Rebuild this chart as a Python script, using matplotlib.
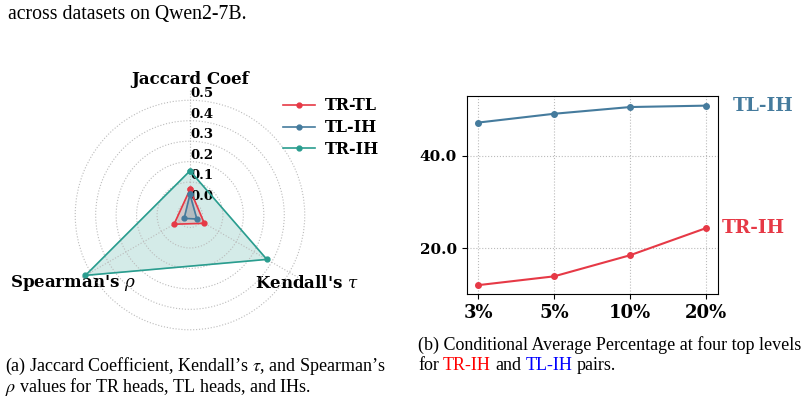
import numpy as np
import matplotlib.pyplot as plt
from matplotlib.ticker import MultipleLocator, FormatStrFormatter

plt.rcParams['font.family'] = 'DejaVu Serif'
plt.rcParams['mathtext.fontset'] = 'dejavuserif'

# --- data ---
metrics = ['Jaccard Coef', "Kendall's $\\tau$", "Spearman's $\\rho$"]
pair_names = ['TR-TL', 'TL-IH', 'TR-IH']
tr_tl = [0.064, 0.020, 0.029]
tl_ih = [0.040, -0.022, -0.028]
tr_ih = [0.155, 0.373, 0.529]
r_ticks = [0.0, 0.1, 0.2, 0.3, 0.4, 0.5]

levels = ['3%', '5%', '10%', '20%']
cond_tl_ih = [47.1, 49.0, 50.45, 50.75]
cond_tr_ih = [12.1, 14.0, 18.55, 24.4]

RED = '#e63946'
BLUE = '#457b9d'
GREEN = '#2a9d8f'

fig = plt.figure(figsize=(8.05, 4.03), dpi=100)

# --- (a) radar chart ---
ax = fig.add_axes([0.0807, 0.1563, 0.3106, 0.6203], projection='polar')
ax.set_theta_offset(np.pi / 2)
ax.set_theta_direction(-1)
angles = np.linspace(0, 2 * np.pi, len(metrics), endpoint=False).tolist()
closed = angles + angles[:1]
for name, vals, col in zip(pair_names, [tr_tl, tl_ih, tr_ih], [RED, BLUE, GREEN]):
    v = vals + vals[:1]
    ax.plot(closed, v, color=col, lw=1.2, marker='o', ms=3.5, label=name)
    ax.fill(closed, v, color=col, alpha=0.2)
ax.set_xticks(angles)
ax.set_xticklabels(metrics, fontsize=12, fontweight='bold')
ax.tick_params(axis='x', pad=-3)
ax.set_ylim(-0.061, 0.55)
ax.set_yticks(r_ticks)
ax.set_yticklabels(['%.1f' % t for t in r_ticks], fontsize=9.5, fontweight='bold')
ax.set_rlabel_position(0)
ax.spines['polar'].set_visible(False)
ax.grid(True, ls=':', color='#bbbbbb', lw=0.8)
fig.legend(*ax.get_legend_handles_labels(), loc='upper left',
           bbox_to_anchor=(269 / 805, 1 - 83 / 403), frameon=False,
           prop=dict(size=11.5, weight='bold'), handlelength=2.0,
           labelspacing=0.3, handletextpad=0.6)

# --- (b) conditional average percentage ---
bx = fig.add_axes([0.5797, 0.2705, 0.3118, 0.491])
x = np.arange(len(levels))
bx.plot(x, cond_tl_ih, color=BLUE, lw=1.5, marker='o', ms=4)
bx.plot(x, cond_tr_ih, color=RED, lw=1.5, marker='o', ms=4)
bx.set_xticks(x)
bx.set_xticklabels(levels, fontsize=13, fontweight='bold')
bx.set_xlim(-0.15, 3.15)
bx.set_ylim(10.2, 52.8)
bx.yaxis.set_major_locator(MultipleLocator(20))
bx.yaxis.set_major_formatter(FormatStrFormatter('%.1f'))
for lab in bx.get_yticklabels():
    lab.set_fontsize(11)
    lab.set_fontweight('bold')
bx.grid(True, ls=':', color='#bbbbbb', lw=0.8)
bx.text(3.35, cond_tl_ih[-1], 'TL-IH', color=BLUE, fontsize=13.3, fontweight='bold', va='center')
bx.text(3.2, cond_tr_ih[-1], 'TR-IH', color=RED, fontsize=13.3, fontweight='bold', va='center')

# --- caption texts ---
CAP_SIZE = 13
cap = dict(family='Liberation Serif', weight='normal', math_fontfamily='stix', va='center')
fig.text(8 / 805, 1 - 14 / 403, 'across datasets on Qwen2-7B.', fontsize=14.2, **cap)
fig.text(5 / 805, 1 - 366 / 403,
         "(a) Jaccard Coefficient, Kendall\u2019s $\\tau$, and Spearman\u2019s", fontsize=CAP_SIZE, **cap)
fig.text(5 / 805, 1 - 386.5 / 403,
         "$\\rho$ values for TR heads, TL heads, and IHs.", fontsize=CAP_SIZE, **cap)
fig.text(418 / 805, 1 - 345 / 403,
         "(b) Conditional Average Percentage at four top levels", fontsize=CAP_SIZE, **cap)

renderer = fig.canvas.get_renderer()


def width_px(s):
    t = fig.text(0, 0, s, fontsize=CAP_SIZE, **cap)
    w = t.get_window_extent(renderer).width
    t.remove()
    return w


parts = [('for ', 'black'), ('TR-IH', '#ff0000'), (' and ', 'black'),
         ('TL-IH', '#0000ff'), (' pairs.', 'black')]
x0 = 418
line = ''
for seg, col in parts:
    line += seg
    end = x0 + width_px(line.rstrip())
    fig.text(end / 805, 1 - 365.5 / 403, seg.strip(), color=col, ha='right', fontsize=CAP_SIZE, **cap)

fig.savefig('out.png', dpi=100)
